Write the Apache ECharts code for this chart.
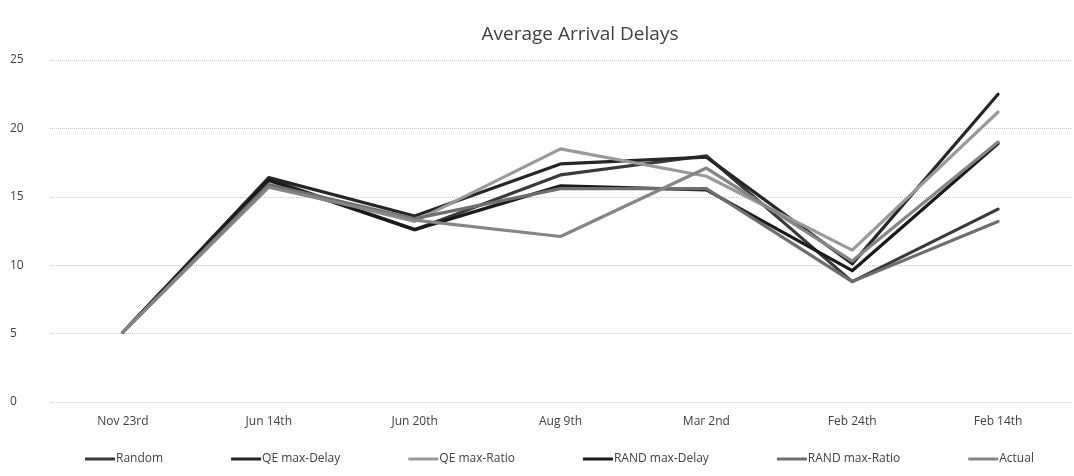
<!DOCTYPE html>
<html>
<head>
<meta charset="utf-8">
<script src="https://cdn.jsdelivr.net/npm/echarts@6/dist/echarts.min.js"></script>
<style>
  html, body { margin: 0; padding: 0; background: #fff; }
  #chart { width: 1074px; height: 476px; }
</style>
</head>
<body>
<div id="chart"></div>
<script>
const categories = ["Nov 23rd", "Jun 14th", "Jun 20th", "Aug 9th", "Mar 2nd", "Feb 24th", "Feb 14th"];
const yTicks = [0, 5, 10, 15, 20, 25];

const random       = [5.1, 16.3, 12.6, 16.6, 18.0, 8.8, 14.1];
const qeMaxDelay   = [5.1, 16.4, 13.6, 17.4, 17.9, 10.1, 22.5];
const qeMaxRatio   = [5.1, 15.8, 13.2, 18.5, 16.5, 11.1, 21.2];
const randMaxDelay = [5.1, 16.2, 12.6, 15.8, 15.5, 9.6, 18.9];
const randMaxRatio = [5.1, 15.9, 13.4, 15.6, 15.6, 8.8, 13.2];
const actual       = [5.1, 15.7, 13.3, 12.1, 17.1, 10.3, 19.0];

const seriesDefs = [
  { name: "Random",         data: random,       color: "#3a3a3a" },
  { name: "QE max-Delay",   data: qeMaxDelay,   color: "#262626" },
  { name: "QE max-Ratio",   data: qeMaxRatio,   color: "#9a9a9a" },
  { name: "RAND max-Delay", data: randMaxDelay, color: "#1a1a1a" },
  { name: "RAND max-Ratio", data: randMaxRatio, color: "#6e6e6e" },
  { name: "Actual",         data: actual,       color: "#858585" }
];

const font = "'Open Sans', 'Liberation Sans', sans-serif";

const chart = echarts.init(document.getElementById("chart"));
chart.setOption({
  animation: false,
  backgroundColor: "#ffffff",
  title: {
    text: "Average Arrival Delays",
    left: 575,
    textAlign: "center",
    top: 20,
    textStyle: { fontFamily: font, fontSize: 19, fontWeight: "normal", color: "#404040" }
  },
  legend: {
    bottom: 6,
    left: 80,
    itemWidth: 30,
    itemHeight: 3,
    itemGap: 68,
    icon: "rect",
    textStyle: { fontFamily: font, fontSize: 12, color: "#404040", padding: [0, 0, 0, -4] },
    data: seriesDefs.map(s => s.name)
  },
  grid: { left: 50, right: 3, top: 60, bottom: 74 },
  xAxis: {
    type: "category",
    data: categories,
    boundaryGap: true,
    axisLine: { show: false },
    axisTick: { show: false },
    axisLabel: { fontFamily: font, fontSize: 12, color: "#404040", margin: 14 }
  },
  yAxis: {
    type: "value",
    min: yTicks[0],
    max: yTicks[yTicks.length - 1],
    interval: 5,
    axisLine: { show: false },
    axisTick: { show: false },
    axisLabel: { fontFamily: font, fontSize: 12, color: "#404040", margin: 40, align: "left" },
    splitLine: { lineStyle: { color: "#c8c8c8", type: "dotted", width: 1 } }
  },
  series: seriesDefs.map(s => ({
    name: s.name,
    type: "line",
    data: s.data,
    symbol: "none",
    color: s.color,
    lineStyle: { width: 3.2, color: s.color, cap: "round", join: "round" }
  }))
});
</script>
</body>
</html>
